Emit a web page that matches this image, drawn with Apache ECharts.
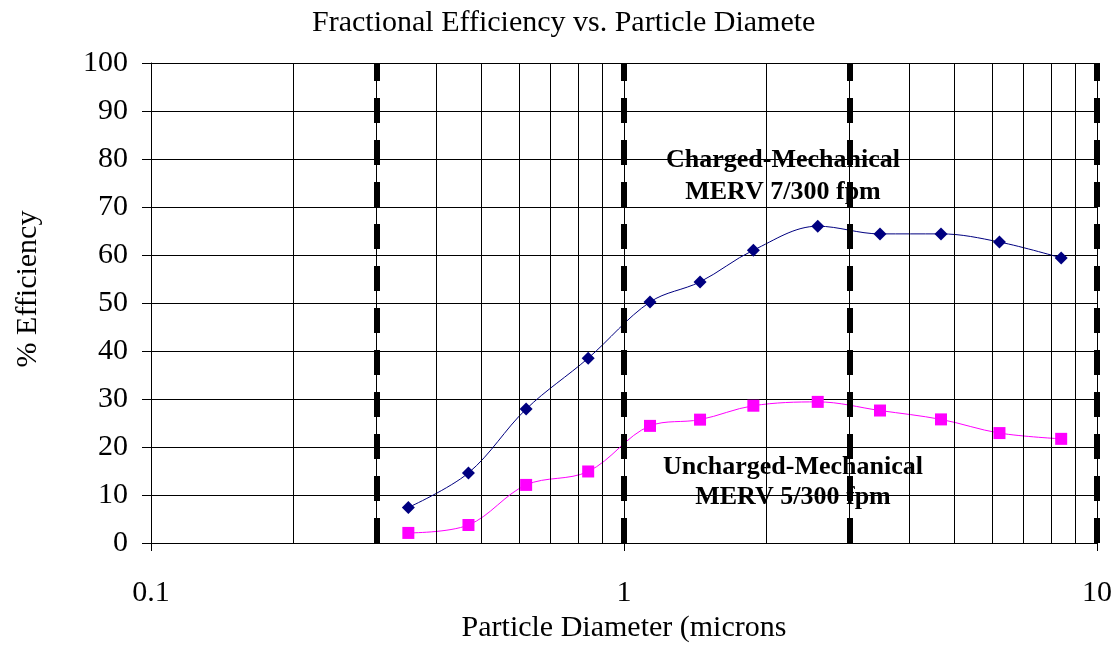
<!DOCTYPE html>
<html>
<head>
<meta charset="utf-8">
<script src="https://cdn.jsdelivr.net/npm/echarts@6/dist/echarts.min.js"></script>
<style>
html,body{margin:0;padding:0;background:#fff;}
#chart{width:1119px;height:650px;}
</style>
</head>
<body>
<div id="chart"></div>
<script>
// ---- data ----
const particleDiameter = [0.350, 0.469, 0.621, 0.840, 1.135, 1.448, 1.877, 2.568, 3.477, 4.68, 6.22, 8.40];
const chargedMERV7 = [7.4, 14.6, 27.9, 38.5, 50.2, 54.4, 61.0, 66.0, 64.4, 64.4, 62.7, 59.4];
const unchargedMERV5 = [2.1, 3.75, 12.1, 14.9, 24.4, 25.7, 28.6, 29.4, 27.6, 25.75, 22.9, 21.7];
const minorGridX = [0.2, 0.3, 0.4, 0.5, 0.6, 0.7, 0.8, 0.9, 2, 3, 4, 5, 6, 7, 8, 9];
const sizeRangeBounds = [0.3, 1, 3, 10];
const titleText = 'Fractional Efficiency vs. Particle Diameter';
const xAxisName = 'Particle Diameter (microns)';
const yAxisName = '% Efficiency';
const label1 = 'Charged-Mechanical\nMERV 7/300 fpm';
const label2 = 'Uncharged-Mechanical\nMERV 5/300 fpm';

const FONT = "'Liberation Serif', 'Times New Roman', serif";
const chart = echarts.init(document.getElementById('chart'), null, {renderer: 'canvas'});

const pairs = (xs, ys) => xs.map((x, i) => [x, ys[i]]);

chart.setOption({
  animation: false,
  backgroundColor: '#fff',
  title: {
    text: titleText,
    left: 307,
    top: 3,
    textStyle: {fontFamily: FONT, fontSize: 30, fontWeight: 'normal', color: '#000',
      width: 505, overflow: 'truncate', ellipsis: ''}
  },
  grid: {left: 151, right: 22, top: 63, bottom: 107, containLabel: false},
  xAxis: {
    type: 'log', logBase: 10, min: 0.1, max: 10,
    name: xAxisName, nameLocation: 'middle', nameGap: 68,
    nameTruncate: {maxWidth: 330, ellipsis: ''},
    nameTextStyle: {fontFamily: FONT, fontSize: 30, color: '#000'},
    axisLine: {show: true, lineStyle: {color: '#000', width: 1}},
    axisTick: {show: true, inside: false, length: 8, lineStyle: {color: '#000'}},
    axisLabel: {fontFamily: FONT, fontSize: 30, color: '#000', margin: 35,
      formatter: v => String(v)},
    splitLine: {show: true, lineStyle: {color: '#000', width: 1}},
    minorTick: {show: false}, minorSplitLine: {show: false}
  },
  yAxis: {
    type: 'value', min: 0, max: 100, interval: 10,
    name: yAxisName, nameLocation: 'middle', nameGap: 108,
    nameTextStyle: {fontFamily: FONT, fontSize: 30, color: '#000', padding: [0, 0, 0, 28]},
    axisLine: {show: true, lineStyle: {color: '#000', width: 1}},
    axisTick: {show: true, inside: false, length: 9, lineStyle: {color: '#000'}},
    axisLabel: {fontFamily: FONT, fontSize: 30, color: '#000', margin: 23},
    splitLine: {show: true, lineStyle: {color: '#000', width: 1}}
  },
  graphic: [
    {type: 'text', z: 0,
     x: 783, y: 176, style: {text: label1, font: "bold 26px " + FONT, fill: '#000',
       align: 'center', verticalAlign: 'middle', lineHeight: 32}},
    {type: 'text', z: 0,
     x: 793, y: 482, style: {text: label2, font: "bold 26px " + FONT, fill: '#000',
       align: 'center', verticalAlign: 'middle', lineHeight: 30}}
  ],
  series: [
    {
      name: 'grid-minor', type: 'line', data: [], silent: true, z: 1,
      markLine: {
        silent: true, symbol: ['none', 'none'], animation: false,
        label: {show: false},
        lineStyle: {color: '#000', width: 1, type: 'solid'},
        data: minorGridX.map(v => ({xAxis: v}))
      }
    },
    {
      name: 'size-bounds', type: 'line', data: [], silent: true, z: 5,
      markLine: {
        silent: true, symbol: ['none', 'none'], animation: false,
        label: {show: false},
        lineStyle: {color: '#000', width: 6, type: [25, 17]},
        data: sizeRangeBounds.map(v => ({xAxis: v}))
      }
    },
    {
      name: 'Charged-Mechanical MERV 7', type: 'line', z: 3,
      data: pairs(particleDiameter, chargedMERV7),
      smooth: 0.35, symbol: 'diamond', symbolSize: 13,
      lineStyle: {color: '#000080', width: 1},
      itemStyle: {color: '#000080'}
    },
    {
      name: 'Uncharged-Mechanical MERV 5', type: 'line', z: 3,
      data: pairs(particleDiameter, unchargedMERV5),
      smooth: 0.35, symbol: 'rect', symbolSize: 12,
      lineStyle: {color: '#FF00FF', width: 1},
      itemStyle: {color: '#FF00FF'}
    }
  ]
});
</script>
</body>
</html>
